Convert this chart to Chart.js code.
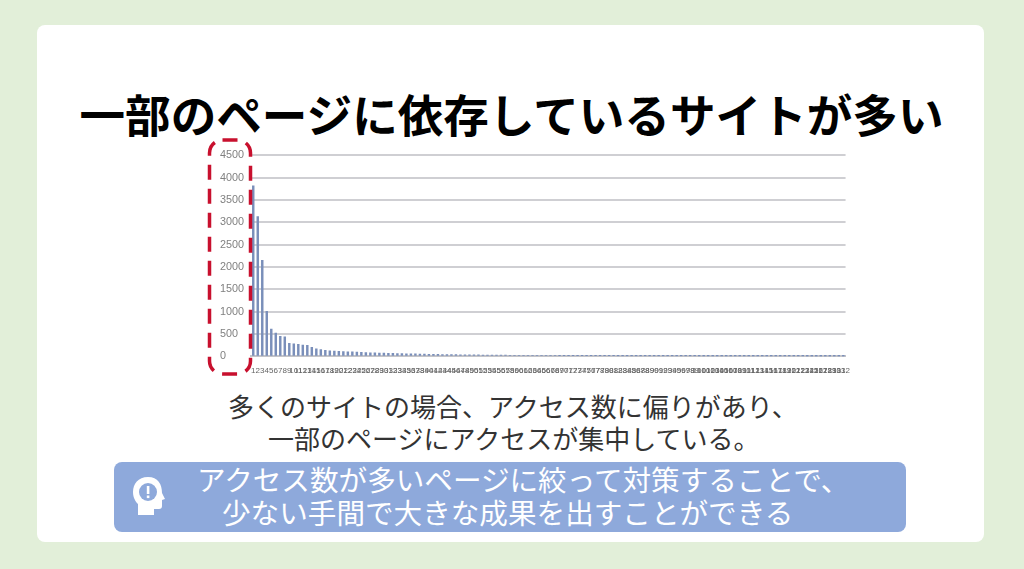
<!DOCTYPE html>
<html lang="ja">
<head>
<meta charset="utf-8">
<script src="https://cdn.jsdelivr.net/npm/chart.js@4/dist/chart.umd.min.js"></script>
<style>
  html, body { margin: 0; padding: 0; }
  body {
    width: 1024px; height: 569px; overflow: hidden; position: relative;
    background: #e2efd9;
    font-family: "Noto Sans CJK JP", sans-serif;
  }
  #page { position: absolute; left: 0; top: 0; width: 1024px; height: 569px; filter: blur(0.5px); }
  .card { position: absolute; left: 37px; top: 25px; width: 947px; height: 517px; background: #fff; border-radius: 8px; }
  .line { position: absolute; white-space: nowrap; }
  #title { left: 0; width: 1023px; text-align: center; top: 80px; font-size: 45.6px; line-height: 66px; font-weight: 700; color: #000; }
  .body-text { left: 228px; font-size: 26px; line-height: 32px; color: #333; }
  #chartBox { position: absolute; left: 220px; top: 141px; width: 632px; height: 237px; }
  #marker { position: absolute; left: 205px; top: 135px; }
  #banner { position: absolute; left: 114px; top: 462px; width: 792px; height: 70px; background: #8ea9db; border-radius: 8px; }
  .banner-text { font-size: 28.6px; line-height: 34px; color: #fff; }
  #icon { position: absolute; left: 130px; top: 475px; }
</style>
</head>
<body>
<div id="page">
<div class="card"></div>
<div class="line" id="title">一部のページに依存しているサイトが多い</div>
<div id="chartBox"><canvas id="accessChart"></canvas></div>
<svg id="marker" width="50" height="244">
  <rect x="4.5" y="5" width="41" height="234" rx="13" fill="none" stroke="#c8102e" stroke-width="3.5" stroke-dasharray="15 9"/>
</svg>
<div class="line body-text" style="top:390px">多くのサイトの場合、アクセス数に偏りがあり、</div>
<div class="line body-text" style="top:422px;left:268px">一部のページにアクセスが集中している。</div>
<div id="banner"></div>
<svg id="icon" width="36" height="42" viewBox="0 0 36 42">
  <path d="M18 2C8 2 3 9 3 17c0 6 3 10 5 12v11h16v-6h5c2 0 3-1 3-3v-6l3-1-3-6C32 9 28 2 18 2z" fill="#fff"/>
  <circle cx="18" cy="17" r="9" fill="#8ea9db"/>
  <rect x="16.8" y="11" width="2.6" height="8" fill="#fff"/>
  <rect x="16.8" y="20.5" width="2.6" height="2.6" fill="#fff"/>
</svg>
<div class="line banner-text" style="top:462px;left:197px">アクセス数が多いページに絞って対策することで、</div>
<div class="line banner-text" style="top:495px;left:222px">少ない手間で大きな成果を出すことができる</div>
</div>

<script>
// アクセス数 (tail is estimated)
const accessCounts = [
  3820, 3130, 2150, 1010, 610, 520, 450, 440, 290, 280,
  270, 255, 250, 205, 170, 150, 135, 125, 120, 115,
  110, 105, 100, 95, 90, 85, 80, 78, 75, 72,
  70, 68, 65, 62, 60, 58, 55, 53, 50, 48,
  46, 45, 43, 42, 40, 38, 37, 36, 35, 34,
  33, 32, 31, 30, 29, 28, 27, 26, 25, 25,
  24, 24, 23, 22, 22, 21, 20, 20, 19, 19,
  18, 18, 17, 17, 16, 16, 15, 15, 14, 14,
  14, 13, 13, 12, 12, 12, 11, 11, 11, 10,
  10, 10, 9, 9, 9, 8, 8, 8, 8, 7,
  7, 7, 7, 6, 6, 6, 6, 5, 5, 5,
  5, 5, 4, 4, 4, 4, 4, 3, 3, 3,
  3, 3, 3, 2, 2, 2, 2, 2, 2, 1,
  1, 1
];
const pageLabels = accessCounts.map((v, i) => String(i + 1));
const yMax = 4500;
const yStep = 500;

new Chart(document.getElementById("accessChart"), {
  type: "bar",
  data: {
    labels: pageLabels,
    datasets: [
      {
        data: accessCounts,
        backgroundColor: "#7a8fba",
        barThickness: 1.8,
      },
    ],
  },
  options: {
    responsive: true,
    maintainAspectRatio: false,
    animation: false,
    layout: { padding: { top: 0, right: 4, bottom: 0, left: 0 } },
    plugins: { legend: { display: false }, tooltip: { enabled: false } },
    scales: {
      x: {
        grid: { display: false },
        border: { color: "#c4c4c8", width: 2 },
        ticks: {
          autoSkip: false,
          maxRotation: 0,
          minRotation: 0,
          color: "#666",
          padding: 2,
          font: { size: 8, family: "Liberation Sans" },
        },
      },
      y: {
        min: 0,
        max: yMax,
        afterFit: (scale) => { scale.width = 31; },
        grid: { color: "#cfcfd3", lineWidth: 2, drawTicks: false },
        border: { display: false },
        ticks: {
          stepSize: yStep,
          crossAlign: "far",
          padding: 8,
          color: "#808080",
          font: { size: 10.8, family: "Liberation Sans" },
          callback: (value) => String(value),
        },
      },
    },
  },
});
</script>
</body>
</html>
